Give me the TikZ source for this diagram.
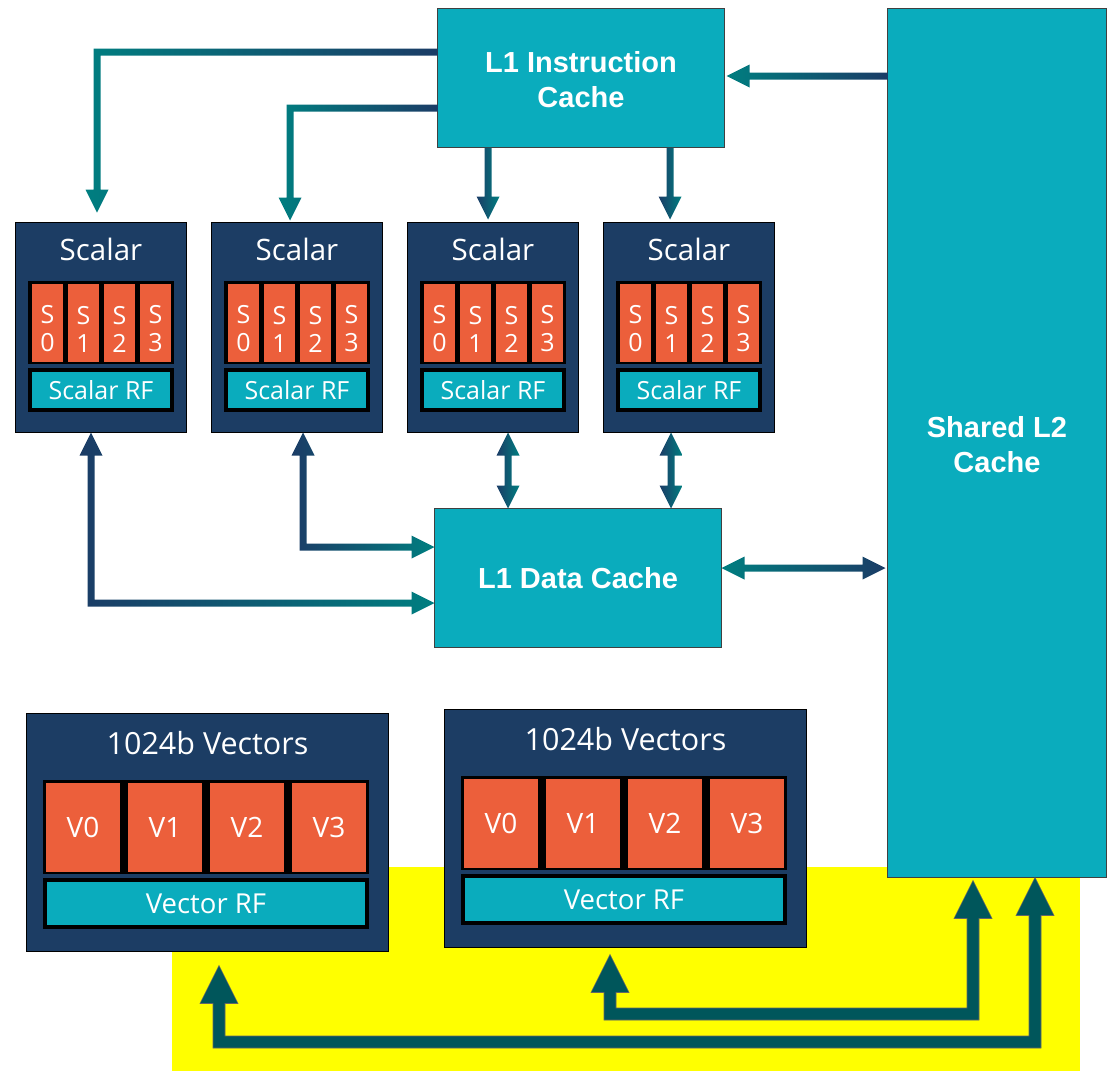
\documentclass[tikz,border=0pt]{standalone}
\usepackage{fontspec}
\setmainfont{Open Sans}
\newfontfamily\headfont{Liberation Sans}
\usetikzlibrary{calc}

\definecolor{navybox}{HTML}{1C3D64}
\definecolor{cachefill}{HTML}{0AACBD}
\definecolor{regorange}{HTML}{EC5F3B}
\definecolor{arrowteal}{HTML}{007E80}
\definecolor{arrownavy}{HTML}{1B3C66}
\definecolor{busteal}{HTML}{00565B}
\definecolor{hilite}{HTML}{FFFF00}

% arrow geometry: half shaft width, half head width, head length
\def\arrShaft{3.5pt}
\def\arrHeadW{11.5pt}
\def\arrHeadL{23pt}

% horizontal shaft leaving #2 to the left, then down to a head whose tip is #3
\newcommand\ElbowDownArrow[3]{%
  \path[#1] let \p1=(#2), \p2=(#3) in
    (\x1,\y1+\arrShaft) -- (\x2-\arrShaft,\y1+\arrShaft) -- (\x2-\arrShaft,\y2+\arrHeadL)
    -- (\x2-\arrHeadW,\y2+\arrHeadL) -- (\x2,\y2) -- (\x2+\arrHeadW,\y2+\arrHeadL)
    -- (\x2+\arrShaft,\y2+\arrHeadL) -- (\x2+\arrShaft,\y1-\arrShaft) -- (\x1,\y1-\arrShaft) -- cycle;}
% straight down from #2 to the tip level of #3
\newcommand\DownArrow[3]{%
  \path[#1] let \p1=(#2), \p2=(#3) in
    (\x1-\arrShaft,\y1) -- (\x1-\arrShaft,\y2+\arrHeadL) -- (\x1-\arrHeadW,\y2+\arrHeadL)
    -- (\x1,\y2) -- (\x1+\arrHeadW,\y2+\arrHeadL) -- (\x1+\arrShaft,\y2+\arrHeadL)
    -- (\x1+\arrShaft,\y1) -- cycle;}
% straight left from #2 to the tip #3
\newcommand\LeftArrow[3]{%
  \path[#1] let \p1=(#2), \p2=(#3) in
    (\x1,\y1+\arrShaft) -- (\x2+\arrHeadL,\y1+\arrShaft) -- (\x2+\arrHeadL,\y1+\arrHeadW)
    -- (\x2,\y1) -- (\x2+\arrHeadL,\y1-\arrHeadW) -- (\x2+\arrHeadL,\y1-\arrShaft)
    -- (\x1,\y1-\arrShaft) -- cycle;}
% vertical, heads at both ends: top tip #2, bottom tip level #3
\newcommand\VDoubleArrow[3]{%
  \path[#1] let \p1=(#2), \p2=(#3) in
    (\x1,\y1) -- (\x1+\arrHeadW,\y1-\arrHeadL) -- (\x1+\arrShaft,\y1-\arrHeadL)
    -- (\x1+\arrShaft,\y2+\arrHeadL) -- (\x1+\arrHeadW,\y2+\arrHeadL) -- (\x1,\y2)
    -- (\x1-\arrHeadW,\y2+\arrHeadL) -- (\x1-\arrShaft,\y2+\arrHeadL)
    -- (\x1-\arrShaft,\y1-\arrHeadL) -- (\x1-\arrHeadW,\y1-\arrHeadL) -- cycle;}
% horizontal, heads at both ends: left tip #2, right tip level #3
\newcommand\HDoubleArrow[3]{%
  \path[#1] let \p1=(#2), \p2=(#3) in
    (\x1,\y1) -- (\x1+\arrHeadL,\y1+\arrHeadW) -- (\x1+\arrHeadL,\y1+\arrShaft)
    -- (\x2-\arrHeadL,\y1+\arrShaft) -- (\x2-\arrHeadL,\y1+\arrHeadW) -- (\x2,\y1)
    -- (\x2-\arrHeadL,\y1-\arrHeadW) -- (\x2-\arrHeadL,\y1-\arrShaft)
    -- (\x1+\arrHeadL,\y1-\arrShaft) -- (\x1+\arrHeadL,\y1-\arrHeadW) -- cycle;}
% up-head at #2, shaft down then right to a head at #3
\newcommand\ElbowDoubleArrow[3]{%
  \path[#1] let \p1=(#2), \p2=(#3) in
    (\x1,\y1) -- (\x1+\arrHeadW,\y1-\arrHeadL) -- (\x1+\arrShaft,\y1-\arrHeadL)
    -- (\x1+\arrShaft,\y2+\arrShaft) -- (\x2-\arrHeadL,\y2+\arrShaft) -- (\x2-\arrHeadL,\y2+\arrHeadW)
    -- (\x2,\y2) -- (\x2-\arrHeadL,\y2-\arrHeadW) -- (\x2-\arrHeadL,\y2-\arrShaft)
    -- (\x1-\arrShaft,\y2-\arrShaft) -- (\x1-\arrShaft,\y1-\arrHeadL) -- (\x1-\arrHeadW,\y1-\arrHeadL) -- cycle;}
% U-shaped bus: up-heads at #2 and #3, bottom run at the level of #4
\newcommand\UDoubleArrow[4]{%
  \path[#1] let \p1=(#2), \p2=(#3), \p3=(#4) in
    (\x1,\y1) -- (\x1+\arrHeadW,\y1-\arrHeadL) -- (\x1+\arrShaft,\y1-\arrHeadL)
    -- (\x1+\arrShaft,\y3+\arrShaft) -- (\x2-\arrShaft,\y3+\arrShaft) -- (\x2-\arrShaft,\y2-\arrHeadL)
    -- (\x2-\arrHeadW,\y2-\arrHeadL) -- (\x2,\y2) -- (\x2+\arrHeadW,\y2-\arrHeadL)
    -- (\x2+\arrShaft,\y2-\arrHeadL) -- (\x2+\arrShaft,\y3-\arrShaft)
    -- (\x1-\arrShaft,\y3-\arrShaft) -- (\x1-\arrShaft,\y1-\arrHeadL) -- (\x1-\arrHeadW,\y1-\arrHeadL) -- cycle;}

\begin{document}
\begin{tikzpicture}[x=1pt,y=-1pt,
  cache/.style={draw=black!75, line width=1.2pt, fill=cachefill, inner sep=0pt, outer sep=0pt},
  cachetext/.style={text=white, align=center, inner sep=0pt,
    font=\headfont\bfseries\fontsize{29}{35}\selectfont},
  core/.style={draw=black, line width=1.5pt, fill=navybox, inner sep=0pt, outer sep=0pt},
  coretitle/.style={text=white, inner sep=0pt, font=\fontsize{29.5}{32}\selectfont},
  regbank/.style={fill=black, inner sep=0pt, outer sep=0pt},
  sreg/.style={fill=regorange, inner sep=0pt, minimum width=31pt, minimum height=78pt},
  sregtext/.style={text=white, inner sep=0pt, align=center, font=\fontsize{25}{28}\selectfont},
  vreg/.style={fill=regorange, text=white, inner sep=0pt,
    minimum width=74pt, minimum height=89pt, font=\fontsize{28}{30}\selectfont},
  rf/.style={draw=black, line width=4pt, fill=cachefill, text=white, inner sep=0pt, outer sep=0pt},
  gradTN/.style={shade, left color=arrowteal, right color=arrownavy},
  gradNT/.style={shade, left color=arrownavy, right color=arrowteal},
  bus/.style={fill=busteal, draw=black!60, line width=0.6pt}]

\useasboundingbox (0,0) rectangle (1108,1071);
\fill[hilite] (172,867) rectangle (1080,1071);

% caches
\node[cache, minimum width=287pt, minimum height=139pt] (l1i) at (581,78) {};
\node[cachetext] (l1it) at ([yshift=-2pt]l1i.center) {L1 Instruction\\Cache};
\node[cache, minimum width=287pt, minimum height=139pt] (l1d) at (578,578) {};
\node[cachetext] (l1dt) at (l1d.center) {L1 Data Cache};
\node[cache, minimum width=219pt, minimum height=869pt] (l2) at (997,443) {};
\node[cachetext] (l2t) at ([yshift=-2pt]l2.center) {Shared L2\\Cache};

% scalar cores
\foreach \i in {1,...,4} {
  \pgfmathsetmacro\cx{101+196*(\i-1)}
  \node[core, minimum width=171pt, minimum height=210pt] (sc\i) at (\cx,327.5) {};
  \node[coretitle] (sc\i t) at (\cx,249) {Scalar};
  \node[regbank, minimum width=146pt, minimum height=83pt] (sc\i b) at (\cx,322.5) {};
  \foreach \k in {0,...,3} {
    \node[sreg] (sc\i r\k) at (\cx-53.5+36*\k,323) {};
    \node[sregtext] (sc\i l\k) at ([yshift=-6pt]sc\i r\k.center) {S\\\k};
  }
  \node[rf, minimum width=142pt, minimum height=40pt, font=\fontsize{25}{28}\selectfont]
    (sc\i rf) at (\cx,390) {Scalar RF};
}

% vector units
\foreach \i/\dx/\dy in {1/0/0, 2/418/-4} {
  \node[core, minimum width=362pt, minimum height=238pt] (v\i) at (207.5+\dx,832.5+\dy) {};
  \node[coretitle, font=\fontsize{30.5}{32}\selectfont] (v\i t) at (207.5+\dx,743+\dy) {1024b Vectors};
  \node[regbank, minimum width=326pt, minimum height=94pt] (v\i b) at (206+\dx,827+\dy) {};
  \foreach \k in {0,...,3}
    \node[vreg] (v\i r\k) at (83+82*\k+\dx,827.5+\dy) {V\k};
  \node[rf, minimum width=322pt, minimum height=47pt, font=\fontsize{27.5}{30}\selectfont]
    (v\i rf) at (206+\dx,903.5+\dy) {Vector RF};
}

% instruction fetch paths
\ElbowDownArrow{gradTN}{[yshift=26pt]l1i.west}{[xshift=-4pt,yshift=10pt]sc1.north}
\ElbowDownArrow{gradTN}{[yshift=-30pt]l1i.west}{[xshift=-7pt,yshift=2pt]sc2.north}
\DownArrow{gradNT}{[xshift=-93pt]l1i.south}{[yshift=3pt]sc3.north}
\DownArrow{gradNT}{[xshift=89pt]l1i.south}{[yshift=3pt]sc4.north}
\LeftArrow{gradTN}{[yshift=2pt]l2.west |- l1i.east}{[xshift=2pt,yshift=2pt]l1i.east}

% data paths
\VDoubleArrow{gradNT}{[xshift=15pt]sc3.south}{l1d.north}
\VDoubleArrow{gradNT}{[xshift=-18pt]sc4.south}{l1d.north}
\ElbowDoubleArrow{gradNT}{[xshift=6pt]sc2.south}{[yshift=31pt]l1d.west}
\ElbowDoubleArrow{gradNT}{[xshift=-10pt]sc1.south}{[yshift=-25pt]l1d.west}
\HDoubleArrow{gradTN}{[yshift=10pt]l1d.east}{[xshift=-2pt]l2.west}

% vector buses to L2
\coordinate (bus1) at (0,1042);
\coordinate (bus2) at (0,1014);
\def\arrShaft{6pt}\def\arrHeadW{19pt}\def\arrHeadL{38pt}
\UDoubleArrow{bus}{[xshift=11.5pt,yshift=-14pt]v1.south}{[xshift=38pt]l2.south}{bus1}
\UDoubleArrow{bus}{[xshift=-15.5pt,yshift=-7pt]v2.south}{[xshift=-24pt,yshift=-3pt]l2.south}{bus2}
\end{tikzpicture}
\end{document}
